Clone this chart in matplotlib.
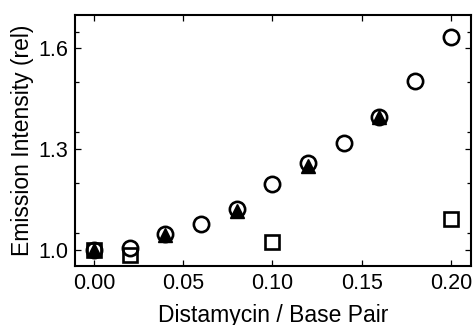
import matplotlib
matplotlib.use('Agg')
import matplotlib.pyplot as plt
from matplotlib.ticker import MultipleLocator

# Data
x_circ = [0.00, 0.02, 0.04, 0.06, 0.08, 0.10, 0.12, 0.14, 0.16, 0.18, 0.20]
y_circ = [1.000, 1.005, 1.047, 1.077, 1.121, 1.197, 1.258, 1.317, 1.397, 1.503, 1.634]

x_tri = [0.00, 0.04, 0.08, 0.12, 0.16]
y_tri = [0.998, 1.044, 1.115, 1.251, 1.395]

x_sq = [0.00, 0.02, 0.10, 0.20]
y_sq = [1.000, 0.984, 1.022, 1.092]

plt.rcParams['font.family'] = ['Liberation Sans', 'DejaVu Sans']

fig = plt.figure(figsize=(4.74, 3.25), dpi=100)
ax = fig.add_axes([0.158, 0.182, 0.836, 0.772])

ax.plot(x_sq, y_sq, 's', ms=10, mfc='white', mec='black', mew=1.9, zorder=2)
ax.plot(x_tri, y_tri, '^', ms=9.5, mfc='black', mec='black', mew=1, zorder=3)
ax.plot(x_circ, y_circ, 'o', ms=11, mfc='none', mec='black', mew=1.9, zorder=4)

ax.set_xlim(-0.0107, 0.2114)
ax.set_ylim(0.952, 1.700)
ax.yaxis.set_minor_locator(MultipleLocator(0.15))
ax.set_xticks([0.0, 0.05, 0.10, 0.15, 0.20])
ax.set_xticklabels(['0.00', '0.05', '0.10', '0.15', '0.20'])
ax.set_yticks([1.0, 1.3, 1.6])
ax.set_yticklabels(['1.0', '1.3', '1.6'])

ax.tick_params(which='both', direction='in', top=True, right=True, labelsize=15.5, width=0.9)
ax.tick_params(which='major', length=4, pad=5)
ax.tick_params(which='minor', length=3)
for s in ax.spines.values():
    s.set_linewidth(1.5)

ax.set_xlabel('Distamycin / Base Pair', fontsize=16.5, labelpad=7)
ax.set_ylabel('Emission Intensity (rel)', fontsize=16.5, labelpad=3)

fig.savefig('out.png', dpi=100)
